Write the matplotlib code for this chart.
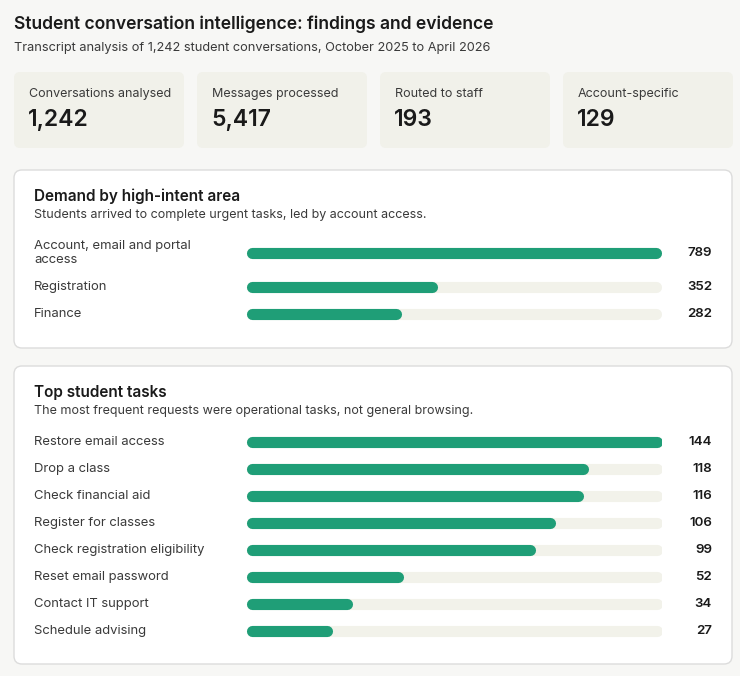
import matplotlib
matplotlib.use("Agg")
import matplotlib.pyplot as plt
from matplotlib.patches import FancyBboxPatch

plt.rcParams["font.family"] = ["Inter", "DejaVu Sans"]

W, H = 740, 676
BG = "#f7f7f5"
CARD = "#f1f1ea"
TRACK = "#f2f2ea"
GREEN = "#1f9e77"
INK = "#1a1a1a"
SUB = "#3a3a3a"

title = "Student conversation intelligence: findings and evidence"
subtitle = "Transcript analysis of 1,242 student conversations, October 2025 to April 2026"

kpi_labels = ["Conversations analysed", "Messages processed", "Routed to staff", "Account-specific"]
kpi_values = ["1,242", "5,417", "193", "129"]

area_labels = ["Account, email and portal\naccess", "Registration", "Finance"]
area_values = [789, 352, 282]

task_labels = ["Restore email access", "Drop a class", "Check financial aid", "Register for classes",
               "Check registration eligibility", "Reset email password", "Contact IT support",
               "Schedule advising"]
task_values = [144, 118, 116, 106, 99, 52, 34, 27]

fig = plt.figure(figsize=(W / 100, H / 100), dpi=100, facecolor=BG)
base = fig.add_axes([0, 0, 1, 1])
base.set_xlim(0, W)
base.set_ylim(H, 0)
base.axis("off")

base.text(14, 24, title, fontsize=12.6, fontweight="semibold", color=INK, va="center")
base.text(14, 48, subtitle, fontsize=9.2, color=SUB, va="center")

# KPI cards
card_x = [14, 197, 380, 563]
for x, lab, val in zip(card_x, kpi_labels, kpi_values):
    base.add_patch(FancyBboxPatch((x, 72), 170, 76, boxstyle="round,pad=0,rounding_size=6",
                                  fc=CARD, ec="none"))
    base.text(x + 15, 94, lab, fontsize=9, color=SUB, va="center")
    base.text(x + 14, 120, val, fontsize=16.5, fontweight="semibold", color=INK, va="center")


def panel(y0, h, head, note, labels, values, row_y):
    base.add_patch(FancyBboxPatch((14, y0), 718, h, boxstyle="round,pad=0,rounding_size=8",
                                  fc="white", ec="#dcdcdc", lw=1))
    base.text(34, y0 + 26, head, fontsize=11, fontweight="semibold", color=INK, va="center")
    base.text(34, y0 + 45, note, fontsize=9, color=SUB, va="center")
    ax = fig.add_axes([246 / W, 0, 416 / W, 1])
    ax.set_ylim(H, 0)
    vmax = max(values)
    m = vmax * 5.5 / 405
    ax.set_xlim(-m, vmax + m)
    ax.axis("off")
    for lab, v, y in zip(labels, values, row_y):
        ax.plot([0, vmax], [y, y], color=TRACK, lw=8, solid_capstyle="round")
        ax.plot([0, v], [y, y], color=GREEN, lw=8, solid_capstyle="round")
        base.text(34, y, lab, fontsize=9.4, color=SUB, va="center", linespacing=1.25)
        base.text(712, y, f"{v}", fontsize=9.6, fontweight="semibold", color=INK,
                  va="center", ha="right")


panel(170, 178, "Demand by high-intent area",
      "Students arrived to complete urgent tasks, led by account access.",
      area_labels, area_values, [253, 287, 314])
panel(366, 298, "Top student tasks",
      "The most frequent requests were operational tasks, not general browsing.",
      task_labels, task_values, [442 + 27 * i for i in range(len(task_values))])

fig.savefig("out.png", dpi=100, facecolor=BG)
